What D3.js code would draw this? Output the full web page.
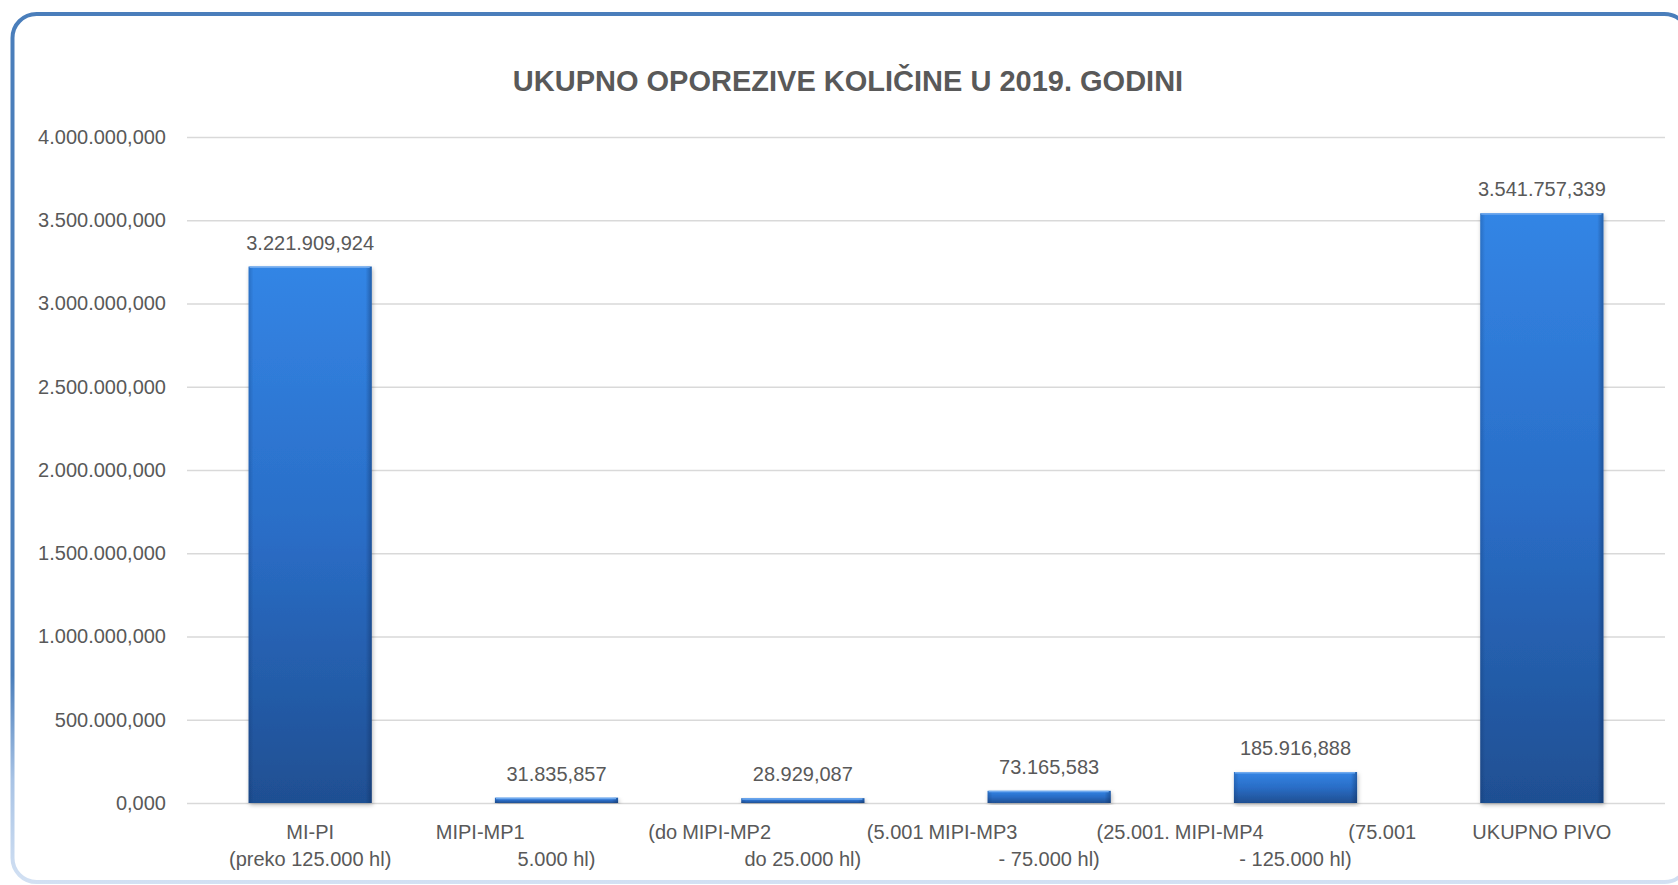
<!DOCTYPE html>
<html>
<head>
<meta charset="utf-8">
<script src="https://cdn.jsdelivr.net/npm/d3@7.9.0/dist/d3.min.js"></script>
<style>
  body { margin: 0; background: #ffffff; overflow: hidden; }
  text { font-family: "Liberation Sans", Arial, sans-serif; fill: #595959; }
</style>
</head>
<body>
<svg id="chart"></svg>
<script>
// chart data
const categories = ["MI-PI", "MIPI-MP1", "MIPI-MP2", "MIPI-MP3", "MIPI-MP4", "UKUPNO PIVO"];
const values = [3221909.924, 31835.857, 28929.087, 73165.583, 185916.888, 3541757.339];
// x labels as Excel wrapped them: first line (one or two pieces), second line
const labelLine1 = [["MI-PI"], ["MIPI-MP1", "(do"], ["MIPI-MP2", "(5.001"], ["MIPI-MP3", "(25.001."], ["MIPI-MP4", "(75.001"], ["UKUPNO PIVO"]];
const labelLine2 = ["(preko 125.000 hl)", "5.000 hl)", "do 25.000 hl)", "- 75.000 hl)", "- 125.000 hl)", ""];
const yTicks = [0, 500000, 1000000, 1500000, 2000000, 2500000, 3000000, 3500000, 4000000];
const title = "UKUPNO OPOREZIVE KOLIČINE U 2019. GODINI";

const W = 1678, H = 885;
const margin = {top: 137, right: 13, bottom: 82, left: 187},
      width = W - margin.left - margin.right,
      height = H - margin.top - margin.bottom;

// hr number format: 1.234.567,890
const hr = d3.formatLocale({decimal: ",", thousands: ".", grouping: [3], currency: ["", " kn"]});
const fmt = hr.format(",.3f");

const svgRoot = d3.select("#chart").attr("width", W).attr("height", H);
const defs = svgRoot.append("defs");

// border gradient (left side fades at the bottom)
const bg = defs.append("linearGradient").attr("id", "borderGrad")
  .attr("gradientUnits", "userSpaceOnUse")
  .attr("x1", 0).attr("y1", 14).attr("x2", 0).attr("y2", 884);
bg.append("stop").attr("offset", 0).attr("stop-color", "#4a7ebb");
bg.append("stop").attr("offset", 0.76).attr("stop-color", "#4a7ebb");
bg.append("stop").attr("offset", 0.88).attr("stop-color", "#a8c3e5");
bg.append("stop").attr("offset", 1).attr("stop-color", "#d3e1f3");

// bar fill
const barGrad = defs.append("linearGradient").attr("id", "barGrad")
  .attr("x1", 0).attr("y1", 0).attr("x2", 0).attr("y2", 1);
barGrad.append("stop").attr("offset", 0).attr("stop-color", "#3385e5");
barGrad.append("stop").attr("offset", 0.5).attr("stop-color", "#2a6dc6");
barGrad.append("stop").attr("offset", 1).attr("stop-color", "#1f4f92");

// side shading of the bevel
const edgeGrad = defs.append("linearGradient").attr("id", "edgeGrad")
  .attr("x1", 0).attr("y1", 0).attr("x2", 1).attr("y2", 0);
edgeGrad.append("stop").attr("offset", 0).attr("stop-color", "#0a2550").attr("stop-opacity", 0.22);
edgeGrad.append("stop").attr("offset", 0.04).attr("stop-color", "#0a2550").attr("stop-opacity", 0);
edgeGrad.append("stop").attr("offset", 0.95).attr("stop-color", "#0a2550").attr("stop-opacity", 0);
edgeGrad.append("stop").attr("offset", 1).attr("stop-color", "#0a2550").attr("stop-opacity", 0.4);

const shadow = defs.append("filter").attr("id", "shadow")
  .attr("x", "-10%").attr("y", "-10%").attr("width", "120%").attr("height", "120%");
shadow.append("feDropShadow").attr("dx", 1).attr("dy", 2).attr("stdDeviation", 2)
  .attr("flood-color", "#000").attr("flood-opacity", 0.28);

// chart frame (right edge runs just past the window)
svgRoot.append("rect")
  .attr("x", 12.5).attr("y", 14)
  .attr("width", 1676).attr("height", 868)
  .attr("rx", 24).attr("ry", 24)
  .attr("fill", "#ffffff")
  .attr("stroke", "url(#borderGrad)")
  .attr("stroke-width", 4);

// title
svgRoot.append("text")
  .attr("x", 848)
  .attr("y", 91)
  .attr("text-anchor", "middle")
  .style("font-size", "29px")
  .style("font-weight", "bold")
  .text(title);

const svg = svgRoot.append("g")
  .attr("transform", `translate(${margin.left},${margin.top})`);

// scales
const xScale = d3.scaleBand()
  .domain(categories)
  .range([0, width])
  .paddingInner(0.5)
  .paddingOuter(0.25);

const yScale = d3.scaleLinear()
  .domain([0, 4000000])
  .range([height, 0]);

// y axis + gridlines
const yAxis = svg.append("g")
  .call(d3.axisLeft(yScale).tickValues(yTicks).tickFormat(fmt).tickSize(-width).tickPadding(21));
yAxis.select(".domain").remove();
yAxis.selectAll(".tick line").attr("stroke", "#d9d9d9").attr("stroke-width", 1.6);
yAxis.selectAll(".tick text")
  .attr("fill", "#595959")
  .style("font-size", "20px")
  .style("font-family", "Liberation Sans, Arial, sans-serif");

// bars
const bars = svg.selectAll(".bar")
  .data(values)
  .enter()
  .append("g")
  .attr("class", "bar");

bars.append("rect")
  .attr("x", (d, i) => xScale(categories[i]))
  .attr("y", d => yScale(d))
  .attr("width", xScale.bandwidth())
  .attr("height", d => height - yScale(d))
  .attr("fill", "url(#barGrad)")
  .attr("filter", "url(#shadow)");

bars.append("rect")
  .attr("x", (d, i) => xScale(categories[i]))
  .attr("y", d => yScale(d))
  .attr("width", xScale.bandwidth())
  .attr("height", d => height - yScale(d))
  .attr("fill", "url(#edgeGrad)");

// top highlight
bars.append("line")
  .attr("x1", (d, i) => xScale(categories[i]) + 1)
  .attr("x2", (d, i) => xScale(categories[i]) + xScale.bandwidth() - 2)
  .attr("y1", d => yScale(d) + 0.75)
  .attr("y2", d => yScale(d) + 0.75)
  .attr("stroke", "#6fa9ee")
  .attr("stroke-width", 1.5);

// value labels
svg.selectAll(".value")
  .data(values)
  .enter()
  .append("text")
  .attr("class", "value")
  .attr("x", (d, i) => xScale(categories[i]) + xScale.bandwidth() / 2)
  .attr("y", d => yScale(d) - 17)
  .attr("text-anchor", "middle")
  .style("font-size", "20px")
  .text(d => fmt(d));

// category labels
const step = xScale.step();
const half = step * 0.49;
categories.forEach((c, i) => {
  const cx = xScale(c) + xScale.bandwidth() / 2;
  const parts = labelLine1[i];
  if (parts.length === 1) {
    svg.append("text")
      .attr("x", cx).attr("y", height + 36)
      .attr("text-anchor", "middle")
      .style("font-size", "20px")
      .text(parts[0]);
  } else {
    svg.append("text")
      .attr("x", cx - half).attr("y", height + 36)
      .attr("text-anchor", "start")
      .style("font-size", "20px")
      .text(parts[0]);
    svg.append("text")
      .attr("x", cx + half).attr("y", height + 36)
      .attr("text-anchor", "end")
      .style("font-size", "20px")
      .text(parts[1]);
  }
  svg.append("text")
    .attr("x", cx).attr("y", height + 63)
    .attr("text-anchor", "middle")
    .style("font-size", "20px")
    .text(labelLine2[i]);
});
</script>
</body>
</html>
